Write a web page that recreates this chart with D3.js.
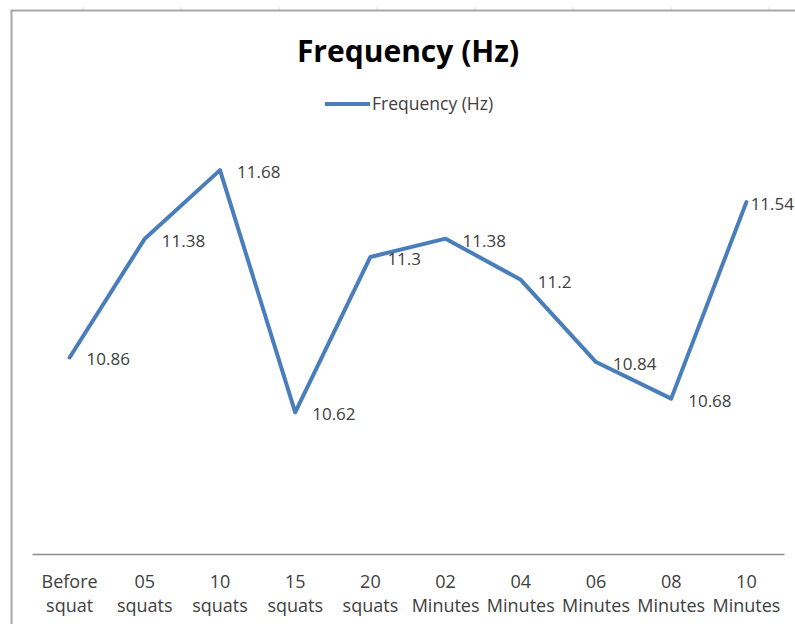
<!DOCTYPE html>
<html>
<head>
<meta charset="utf-8">
<script src="https://cdn.jsdelivr.net/npm/d3@7"></script>
<style>
  html, body { margin: 0; padding: 0; background: #ffffff; }
  svg { display: block; }
</style>
</head>
<body>
<svg id="chart" width="795" height="624"></svg>
<script>
// Frequency readings across the squat protocol
const categories = [
  ["Before", "squat"], ["05", "squats"], ["10", "squats"], ["15", "squats"], ["20", "squats"],
  ["02", "Minutes"], ["04", "Minutes"], ["06", "Minutes"], ["08", "Minutes"], ["10", "Minutes"]
];
const frequency = [10.86, 11.38, 11.68, 10.62, 11.3, 11.38, 11.2, 10.84, 10.68, 11.54];
const seriesName = "Frequency (Hz)";
const chartTitle = "Frequency (Hz)";
const yDomain = [10, 12];

const W = 795, H = 624;
const svg = d3.select("#chart");
const font = "'Open Sans', 'Noto Sans', sans-serif";
const lineColor = "#4a7ebb";
const textColor = "#404040";

// Faint worksheet grid strip above the chart frame
const sheetCols = [83, 181, 279, 377, 475, 573, 671, 769];
svg.selectAll("line.sheet").data(sheetCols).enter().append("line")
  .attr("class", "sheet")
  .attr("x1", d => d).attr("x2", d => d)
  .attr("y1", 7).attr("y2", 10)
  .attr("stroke", "#e4e4e4").attr("stroke-width", 1);

// Chart frame (top and left edges visible)
svg.append("path")
  .attr("d", `M11.5,${H} V10.5 H${W}`)
  .attr("fill", "none")
  .attr("stroke", "#a8a8a8")
  .attr("stroke-width", 2);

// Title
svg.append("text")
  .attr("x", 408).attr("y", 62)
  .attr("text-anchor", "middle")
  .attr("font-family", font)
  .attr("font-weight", "bold")
  .attr("font-size", 30)
  .attr("fill", "#000")
  .text(chartTitle);

// Legend
const legend = svg.append("g");
legend.append("line")
  .attr("x1", 325).attr("x2", 370)
  .attr("y1", 104).attr("y2", 104)
  .attr("stroke", lineColor).attr("stroke-width", 4);
legend.append("text")
  .attr("x", 372).attr("y", 110)
  .attr("font-family", font)
  .attr("font-size", 17.5)
  .attr("fill", textColor)
  .text(seriesName);

// Scales
const x = d3.scaleBand()
  .domain(d3.range(categories.length))
  .range([32, 784]);
const y = d3.scaleLinear().domain(yDomain).range([554, 97]);

// Category axis
const xAxis = svg.append("g")
  .attr("transform", `translate(0,${y(yDomain[0])})`)
  .call(d3.axisBottom(x).tickSize(0).tickFormat(""));
xAxis.select(".domain").attr("stroke", "#8c8c8c").attr("stroke-width", 1.5);

const catLabels = svg.append("g").selectAll("text")
  .data(categories).enter().append("text")
  .attr("text-anchor", "middle")
  .attr("font-family", font)
  .attr("font-size", 18)
  .attr("fill", textColor)
  .attr("transform", (d, i) => `translate(${x(i) + x.bandwidth() / 2},0)`);
catLabels.append("tspan").attr("x", 0).attr("y", 588).text(d => d[0]);
catLabels.append("tspan").attr("x", 0).attr("y", 612).text(d => d[1]);

// Series line
const cx = i => x(i) + x.bandwidth() / 2;
const line = d3.line()
  .x((d, i) => cx(i))
  .y(d => y(d));
svg.append("path")
  .datum(frequency)
  .attr("d", line)
  .attr("fill", "none")
  .attr("stroke", lineColor)
  .attr("stroke-width", 4)
  .attr("stroke-linejoin", "round")
  .attr("stroke-linecap", "round");

// Data labels to the right of each point, kept inside the chart area
const chartRight = 794;
svg.append("g").selectAll("text")
  .data(frequency).enter().append("text")
  .attr("font-family", font)
  .attr("font-size", 17)
  .attr("fill", textColor)
  .attr("y", d => y(d) + 8)
  .text(d => String(d))
  .each(function (d, i) {
    const w = this.getComputedTextLength();
    const left = Math.min(cx(i) + 17, chartRight - w);
    d3.select(this).attr("x", left);
  });
</script>
</body>
</html>
